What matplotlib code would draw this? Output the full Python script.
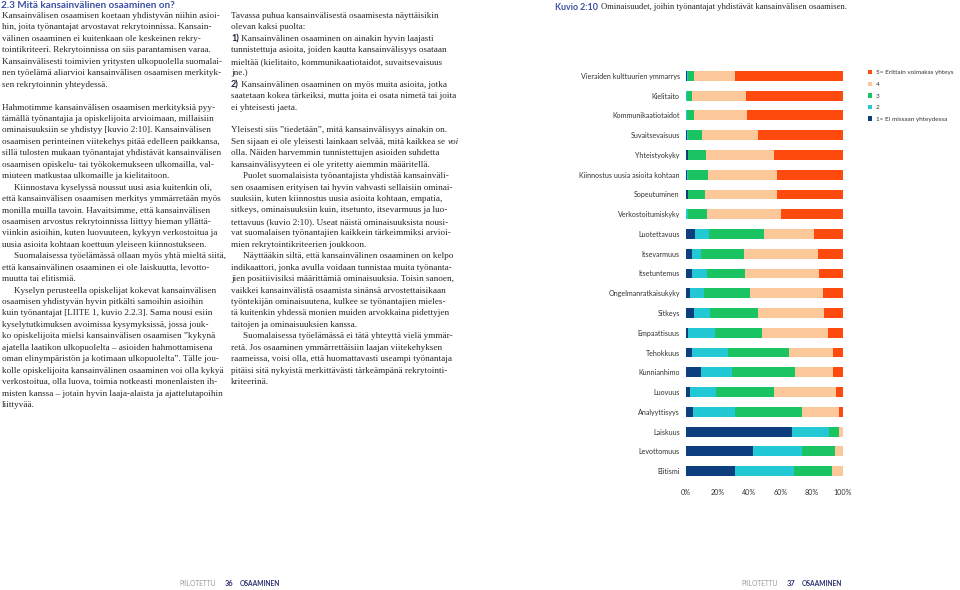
import matplotlib
matplotlib.use('Agg')
import matplotlib.pyplot as plt
import numpy as np

# --- chart data (shares in %) ---
categories = [
    'Vieraiden kulttuurien ymmarrys', 'Kielitaito', 'Kommunikaatiotaidot',
    'Suvaitsevaisuus', 'Yhteistyokyky', 'Kiinnostus uusia asioita kohtaan',
    'Sopeutuminen', 'Verkostoitumiskyky', 'Luotettavuus', 'Itsevarmuus',
    'Itsetuntemus', 'Ongelmanratkaisukyky', 'Sitkeys', 'Empaattisuus',
    'Tehokkuus', 'Kunnianhimo', 'Luovuus', 'Analyyttisyys', 'Laiskuus',
    'Levottomuus', 'Elitismi',
]
level1 = [0.5, 0.0, 0.0, 0.6, 1.1, 0.6, 1.3, 0.0, 5.7, 3.8, 4.0, 2.7, 4.9, 1.3, 3.6, 9.5, 2.7, 4.2, 67.4, 42.7, 31.1]
level2 = [1.0, 0.4, 0.5, 0.4, 0.4, 0.7, 0.2, 1.1, 8.7, 5.5, 9.5, 8.9, 10.5, 17.1, 23.2, 19.5, 16.3, 26.9, 23.5, 31.1, 37.8]
level3 = [3.6, 3.4, 4.6, 9.1, 11.2, 12.7, 10.3, 12.2, 35.3, 27.5, 24.1, 29.2, 30.7, 30.0, 38.7, 40.6, 37.2, 42.5, 6.8, 21.1, 23.9]
level4 = [26.4, 34.5, 34.0, 36.0, 43.3, 44.1, 46.1, 47.4, 31.7, 47.1, 47.4, 46.3, 41.6, 41.9, 27.9, 24.3, 39.4, 23.9, 2.3, 5.1, 7.2]
level5 = [68.5, 61.7, 60.9, 53.9, 44.0, 41.9, 42.1, 39.3, 18.6, 16.1, 15.0, 12.9, 12.3, 9.7, 6.6, 6.1, 4.4, 2.5, 0.0, 0.0, 0.0]
level_labels = ['1= Ei missaan yhteydessa', '2', '3', '4', '5= Erittain voimakas yhteys']
level_colors = ['#0d3f7f', '#22c8d4', '#1bc463', '#fcc899', '#fe4b0d']
x_ticks = [0, 20, 40, 60, 80, 100]

# --- page text ---
heading = '2.3 Mitä kansainvälinen osaaminen on?'
caption_label = 'Kuvio 2:10'
caption_text = 'Ominaisuudet, joihin työnantajat yhdistävät kansainvälisen osaamisen.'

left_lines = [
    'Kansainvälisen osaamisen koetaan yhdistyvän niihin asioi-',
    'hin, joita työnantajat arvostavat rekrytoinnissa. Kansain-',
    'välinen osaaminen ei kuitenkaan ole keskeinen rekry-',
    'tointikriteeri. Rekrytoinnissa on siis parantamisen varaa.',
    'Kansainvälisesti toimivien yritysten ulkopuolella suomalai-',
    'nen työelämä aliarvioi kansainvälisen osaamisen merkityk-',
    'sen rekrytoinnin yhteydessä.',
    '',
    'Hahmotimme kansainvälisen osaamisen merkityksiä pyy-',
    'tämällä työnantajia ja opiskelijoita arvioimaan, millaisiin',
    'ominaisuuksiin se yhdistyy [kuvio 2:10]. Kansainvälisen',
    'osaamisen perinteinen viitekehys pitää edelleen paikkansa,',
    'sillä tulosten mukaan työnantajat yhdistävät kansainvälisen',
    'osaamisen opiskelu- tai työkokemukseen ulkomailla, val-',
    'miuteen matkustaa ulkomaille ja kielitaitoon.',
    '>Kiinnostava kyselyssä noussut uusi asia kuitenkin oli,',
    'että kansainvälisen osaamisen merkitys ymmärretään myös',
    'monilla muilla tavoin. Havaitsimme, että kansainvälisen',
    'osaamisen arvostus rekrytoinnissa liittyy hieman yllättä-',
    'viinkin asioihin, kuten luovuuteen, kykyyn verkostoitua ja',
    'uusia asioita kohtaan koettuun yleiseen kiinnostukseen.',
    '>Suomalaisessa työelämässä ollaan myös yhtä mieltä siitä,',
    'että kansainvälinen osaaminen ei ole laiskuutta, levotto-',
    'muutta tai elitismiä.',
    '>Kyselyn perusteella opiskelijat kokevat kansainvälisen',
    'osaamisen yhdistyvän hyvin pitkälti samoihin asioihin',
    'kuin työnantajat [LIITE 1, kuvio 2.2.3]. Sama nousi esiin',
    'kyselytutkimuksen avoimissa kysymyksissä, jossa jouk-',
    'ko opiskelijoita mielsi kansainvälisen osaamisen ”kykynä',
    'ajatella laatikon ulkopuolelta – asioiden hahmottamisena',
    'oman elinympäristön ja kotimaan ulkopuolelta”. Tälle jou-',
    'kolle opiskelijoita kansainvälinen osaaminen voi olla kykyä',
    'verkostoitua, olla luova, toimia notkeasti monenlaisten ih-',
    'misten kanssa – jotain hyvin laaja-alaista ja ajattelutapoihin',
    'liittyvää.',
]

mid_lines = [
    'Tavassa puhua kansainvälisestä osaamisesta näyttäisikin',
    'olevan kaksi puolta:',
    '1)| Kansainvälinen osaaminen on ainakin hyvin laajasti',
    'tunnistettuja asioita, joiden kautta kansainvälisyys osataan',
    'mieltää (kielitaito, kommunikaatiotaidot, suvaitsevaisuus',
    'jne.)',
    '2)| Kansainvälinen osaaminen on myös muita asioita, jotka',
    'saatetaan kokea tärkeiksi, mutta joita ei osata nimetä tai joita',
    'ei yhteisesti jaeta.',
    '',
    'Yleisesti siis ”tiedetään”, mitä kansainvälisyys ainakin on.',
    'Sen sijaan ei ole yleisesti lainkaan selvää, mitä kaikkea se |voi',
    'olla. Näiden harvemmin tunnistettujen asioiden suhdetta',
    'kansainvälisyyteen ei ole yritetty aiemmin määritellä.',
    '>Puolet suomalaisista työnantajista yhdistää kansainväli-',
    'sen osaamisen erityisen tai hyvin vahvasti sellaisiin ominai-',
    'suuksiin, kuten kiinnostus uusia asioita kohtaan, empatia,',
    'sitkeys, ominaisuuksiin kuin, itsetunto, itsevarmuus ja luo-',
    'tettavuus (kuvio 2:10). Useat näistä ominaisuuksista nousi-',
    'vat suomalaisen työnantajien kaikkein tärkeimmiksi arvioi-',
    'mien rekrytointikriteerien joukkoon.',
    '>Näyttääkin siltä, että kansainvälinen osaaminen on kelpo',
    'indikaattori, jonka avulla voidaan tunnistaa muita työnanta-',
    'jien positiivisiksi määrittämiä ominaisuuksia. Toisin sanoen,',
    'vaikkei kansainvälistä osaamista sinänsä arvostettaisikaan',
    'työntekijän ominaisuutena, kulkee se työnantajien mieles-',
    'tä kuitenkin yhdessä monien muiden arvokkaina pidettyjen',
    'taitojen ja ominaisuuksien kanssa.',
    '>Suomalaisessa työelämässä ei tätä yhteyttä vielä ymmär-',
    'retä. Jos osaaminen ymmärrettäisiin laajan viitekehyksen',
    'raameissa, voisi olla, että huomattavasti useampi työnantaja',
    'pitäisi sitä nykyistä merkittävästi tärkeämpänä rekrytointi-',
    'kriteerinä.',
]

W, H = 960, 590
BLUE = '#3f50a2'
TEXT = '#262626'
SERIF = 'Liberation Serif'
SANS = 'Lato'
BODY = 6.55
LINE_STEP = 11.44


def fx(px):
    return px / W


def fy(py):
    return 1 - py / H


fig = plt.figure(figsize=(9.6, 5.9), dpi=100)
renderer = fig.canvas.get_renderer()


def text_width(t):
    return t.get_window_extent(renderer=renderer).width


def draw_column(lines, x0, y0):
    for i, line in enumerate(lines):
        if not line:
            continue
        y = fy(y0 + i * LINE_STEP)
        x = x0
        if line.startswith('>'):
            line = line[1:]
            x += 12
        if '|' in line:
            first, second = line.split('|')
            if first.endswith(')'):
                # numbered point: bold sans number
                t = fig.text(fx(x), y, first, fontsize=BODY, family=SANS,
                             weight='bold', color='#1f2340', va='center')
                fig.text(fx(x + text_width(t)), y, second, fontsize=BODY,
                         family=SERIF, color=TEXT, va='center')
            else:
                t = fig.text(fx(x), y, first, fontsize=BODY, family=SERIF,
                             color=TEXT, va='center')
                fig.text(fx(x + text_width(t)), y, second, fontsize=BODY,
                         family=SERIF, style='italic', color=TEXT, va='center')
        else:
            fig.text(fx(x), y, line, fontsize=BODY, family=SERIF,
                     color=TEXT, va='center')


# heading and caption
fig.text(fx(1), fy(5), heading, fontsize=7.2, family=SANS, weight='bold',
         color=BLUE, va='center')
t = fig.text(fx(555), fy(7), caption_label, fontsize=6.4, family=SANS,
             weight='bold', color=BLUE, va='center')
fig.text(fx(555 + text_width(t) + 3), fy(7), caption_text, fontsize=6.2,
         family=SERIF, color=TEXT, va='center')

draw_column(left_lines, 2, 16)
draw_column(mid_lines, 231, 16)

# --- stacked bar chart ---
ax = fig.add_axes([fx(686), fy(481), fx(843) - fx(686), (481 - 66) / H])
levels = [level1, level2, level3, level4, level5]
ypos = np.arange(len(categories))
left = np.zeros(len(categories))
handles = []
for vals, col, lab in zip(levels, level_colors, level_labels):
    vals = np.array(vals)
    b = ax.barh(ypos, vals, left=left, height=0.5, color=col, label=lab,
                linewidth=0)
    handles.append(b)
    left += vals

ax.set_xlim(0, 100)
ax.set_ylim(len(categories) - 0.5, -0.5)
ax.set_yticks(ypos, categories)
ax.set_xticks(x_ticks, [f'{v}%' for v in x_ticks])
ax.tick_params(length=0, labelsize=5.1, colors='#333333', pad=4.5)
ax.tick_params(axis='x', pad=6)
for lab in ax.get_xticklabels() + ax.get_yticklabels():
    lab.set_family(SANS)
for s in ax.spines.values():
    s.set_visible(False)

ax.legend(handles[::-1], level_labels[::-1], loc='upper left',
          bbox_to_anchor=(fx(868), fy(70)), bbox_transform=fig.transFigure,
          frameon=False, prop={'family': SANS, 'size': 4.6},
          handlelength=0.7, handleheight=0.7, handletextpad=0.5,
          labelspacing=0.95, borderpad=0, borderaxespad=0,
          labelcolor='#333333')

# --- page footers ---
for x0, num in [(179, '36'), (741, '37')]:
    t = fig.text(fx(x0), fy(584), 'PIILOTETTU', fontsize=4.8, family=SANS,
                 color='#9a9a9a', va='center')
    x1 = x0 + text_width(t) + 9
    t = fig.text(fx(x1), fy(584), num, fontsize=5.3, family=SANS,
                 weight='bold', color='#2b3170', va='center')
    x2 = x1 + text_width(t) + 7
    fig.text(fx(x2), fy(584), 'OSAAMINEN', fontsize=4.8, family=SANS,
             weight='bold', color='#2b3170', va='center')

fig.savefig('out.png', dpi=100)
